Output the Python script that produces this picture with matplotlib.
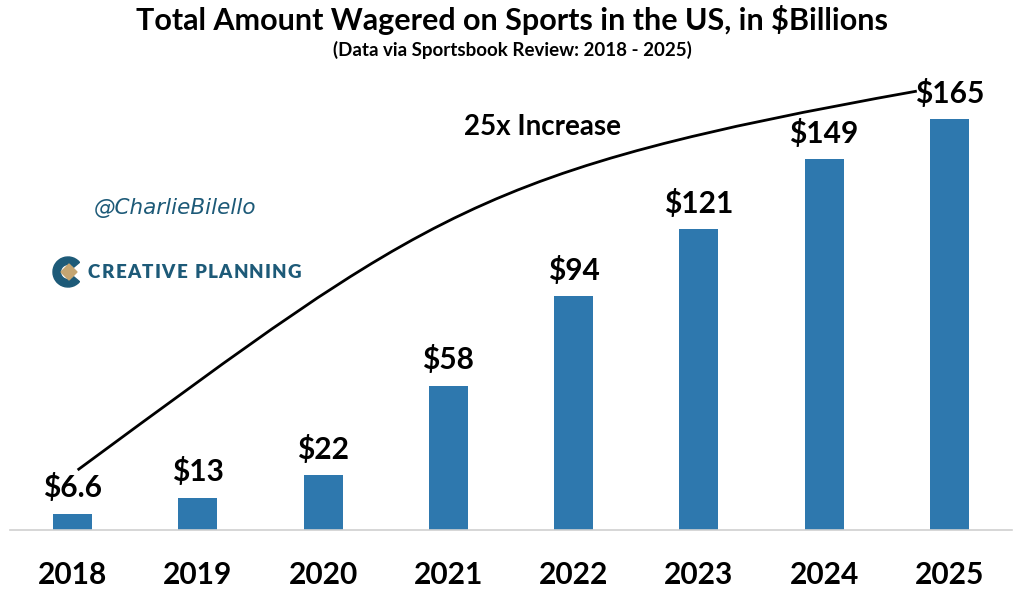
import matplotlib
matplotlib.use("Agg")
import matplotlib.pyplot as plt
from matplotlib.patches import PathPatch, Wedge, Polygon
from matplotlib.path import Path

years = ["2018", "2019", "2020", "2021", "2022", "2023", "2024", "2025"]
values = [6.6, 13, 22, 58, 94, 121, 149, 165]
labels = ["$6.6", "$13", "$22", "$58", "$94", "$121", "$149", "$165"]

BAR = "#2e78ae"
TEAL = "#1d5a78"
GOLD = "#c4a572"
FONT = "Lato"

fig = plt.figure(figsize=(10.24, 5.94), dpi=100)

# logo layer (pixel coordinates)
ax_logo = fig.add_axes([0, 0, 1, 1], zorder=5)
ax_logo.set_xlim(0, 1024)
ax_logo.set_ylim(594, 0)
ax_logo.axis("off")
ax_logo.patch.set_alpha(0)

ax = fig.add_axes([10/1024, 1-530/594, 1002/1024, 470/594], zorder=1)
x = list(range(len(years)))
ax.bar(x, values, width=0.31, color=BAR, zorder=2)
ax.set_xlim(-0.5, 7.5)
ax.set_ylim(0, 188.8)
for i, (v, l) in enumerate(zip(values, labels)):
    ax.text(i, v + 4.5, l, ha="center", va="bottom", fontsize=21.5, fontweight="bold",
            family=FONT, color="black")
for s in ["top", "right", "left"]:
    ax.spines[s].set_visible(False)
ax.spines["bottom"].set_color("#d0d0d0")
ax.spines["bottom"].set_linewidth(1.2)
ax.set_yticks([])
ax.set_xticks(x)
ax.set_xticklabels(years, fontsize=21.5, fontweight="bold", family=FONT)
ax.tick_params(axis="x", length=0, pad=22)

# curved growth line from the 2018 label to the 2025 label
p0 = (0.04, values[0] + 17.5)
p3 = (6.74, values[-1] + 11.3)
p1 = (p0[0] + 2.8, p0[1] + 2.8 * 37)
p2 = (p3[0] - 3.5, p3[1] - 3.5 * 9)
path = Path([p0, p1, p2, p3], [Path.MOVETO, Path.CURVE4, Path.CURVE4, Path.CURVE4])
ax.add_patch(PathPatch(path, fill=False, lw=2, color="black", zorder=3))
ax.text(3.75, 162, "25x Increase", ha="center", va="center", fontsize=20,
        fontweight="bold", family=FONT)

fig.text(0.5, 1-20/594, "Total Amount Wagered on Sports in the US, in $Billions",
         ha="center", va="center", fontsize=22, fontweight="bold", family=FONT)
fig.text(0.5, 1-50/594, "(Data via Sportsbook Review: 2018 - 2025)",
         ha="center", va="center", fontsize=13.5, fontweight="bold", family=FONT)

fig.text(175/1024, 1-208/594, "@CharlieBilello", ha="center", va="center",
         fontsize=15.5, style="italic", color=TEAL, family="DejaVu Sans")

# Creative Planning logo
cx, cy = 68, 272
ax_logo.add_patch(Wedge((cx, cy), 15, 40, 320, width=7.5, color=TEAL))
ax_logo.add_patch(Polygon([(cx+1, cy-8), (cx+9, cy), (cx+1, cy+8), (cx-7, cy)], color=GOLD))
renderer = fig.canvas.get_renderer()
px = 88
for ch in "CREATIVE PLANNING":
    t = ax_logo.text(px, cy, ch, ha="left", va="center", fontsize=13.5,
                     fontweight="heavy", color=TEAL, family=FONT)
    w = t.get_window_extent(renderer=renderer).width
    px += (w if ch != " " else 5) + 1.2

fig.savefig("out.png", dpi=100)
